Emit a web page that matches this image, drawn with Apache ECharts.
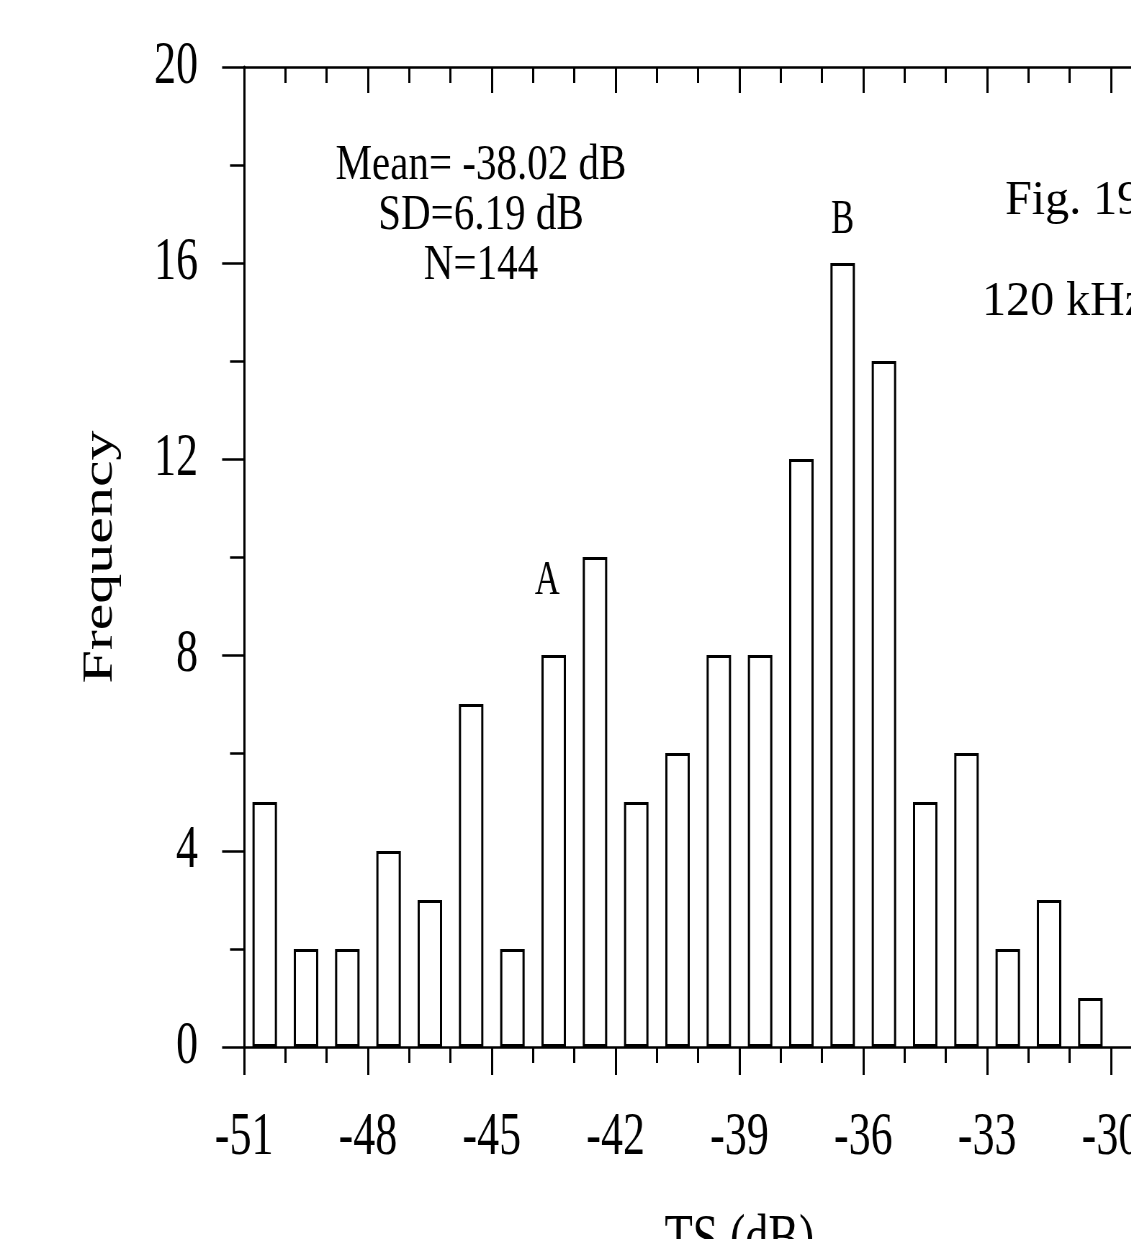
<!DOCTYPE html>
<html>
<head>
<meta charset="utf-8">
<title>TS histogram</title>
<script src="https://cdn.jsdelivr.net/npm/echarts@6/dist/echarts.min.js"></script>
<style>
  html, body { margin: 0; padding: 0; background: #fff; overflow: hidden; }
  /* the figure is drawn wide and then squeezed horizontally, giving the narrow serif look */
  #chart { width: 1571px; height: 1239px; transform: scaleX(0.72); transform-origin: 0 0; }
</style>
</head>
<body>
<div id="chart"></div>
<script>
// Histogram bins (centre of each 1 dB bin) and counts
const binCenters = [-50.5, -49.5, -48.5, -47.5, -46.5, -45.5, -44.5, -43.5, -42.5, -41.5, -40.5,
                    -39.5, -38.5, -37.5, -36.5, -35.5, -34.5, -33.5, -32.5, -31.5, -30.5];
const counts     = [5, 2, 2, 4, 3, 7, 2, 8, 10, 5, 6,
                    8, 8, 12, 16, 14, 5, 6, 2, 3, 1];

// Peak tags written above their bins
const peakTags = [
  { bin: -43.5, text: 'A', distance: 50, offset: [-9, 0] },
  { bin: -36.5, text: 'B', distance: 19, offset: [0, 0] }
];

// Axis ranges and tick steps
const xMin = -51, xMax = -27, xStep = 3;
const yMin = 0, yMax = 20, yStep = 4;

// Summary statistics block and caption lines
const statsLines = ['Mean= -38.02 dB', 'SD=6.19 dB', 'N=144'];
const captionLines = ['Fig. 19', '120 kHz'];

const SQUEEZE = 0.72;
const serif = "'Liberation Serif', 'Times New Roman', serif";

const barData = binCenters.map((x, i) => {
  const item = { value: [x, counts[i]] };
  const tag = peakTags.find(t => t.bin === x);
  if (tag) {
    item.label = {
      show: true, position: 'top', formatter: tag.text,
      distance: tag.distance, offset: tag.offset,
      fontFamily: serif, fontSize: 48, color: '#000'
    };
  }
  return item;
});

const chart = echarts.init(document.getElementById('chart'), null, { renderer: 'canvas' });

const axisLine = { show: true, lineStyle: { color: '#000', width: 2.5 } };

chart.setOption({
  backgroundColor: '#fff',
  animation: false,
  grid: { left: 339, top: 67, width: 1376, height: 980, containLabel: false, outerBoundsMode: 'none' },
  xAxis: [
    {
      type: 'value', position: 'bottom', min: xMin, max: xMax, interval: xStep,
      axisLine: axisLine,
      axisTick: { show: true, inside: false, length: 28, lineStyle: { color: '#000', width: 3 } },
      minorTick: { show: true, splitNumber: 3, length: 16, lineStyle: { color: '#000', width: 3 } },
      splitLine: { show: false },
      axisLabel: { fontFamily: serif, fontSize: 61, color: '#000', margin: 60 },
      name: 'TS (dB)', nameLocation: 'middle', nameGap: 162,
      nameTextStyle: { fontFamily: serif, fontSize: 64, color: '#000' }
    },
    {
      type: 'value', position: 'top', min: xMin, max: xMax, interval: xStep,
      axisLine: axisLine,
      axisTick: { show: true, inside: true, length: 26, lineStyle: { color: '#000', width: 3 } },
      minorTick: { show: true, splitNumber: 3, length: 16, lineStyle: { color: '#000', width: 3 } },
      splitLine: { show: false },
      axisLabel: { show: false }
    }
  ],
  yAxis: {
    type: 'value', min: yMin, max: yMax, interval: yStep,
    axisLine: { show: true, lineStyle: { color: '#000', width: 3 } },
    axisTick: { show: true, inside: false, length: 30.5, lineStyle: { color: '#000', width: 2.5 } },
    minorTick: { show: true, splitNumber: 2, length: 19.5, lineStyle: { color: '#000', width: 2.5 } },
    splitLine: { show: false },
    axisLabel: { fontFamily: serif, fontSize: 61, color: '#000', margin: 64 },
    name: 'Frequency', nameLocation: 'middle', nameGap: 170, nameRotate: 90,
    nameTextStyle: { fontFamily: serif, fontSize: 60, color: '#000' }
  },
  series: [{
    type: 'bar',
    xAxisIndex: 0,
    barWidth: 34,
    data: barData,
    itemStyle: { color: '#fff', borderColor: '#000', borderWidth: 3 },
    emphasis: { disabled: true }
  }],
  graphic: [
    {
      type: 'text', x: 668, y: 216, scaleX: 1.14, z: 10,
      style: {
        text: statsLines.join('\n'), fontFamily: serif, fontSize: 50, lineHeight: 50,
        fill: '#000', align: 'center', verticalAlign: 'middle'
      }
    },
    {
      type: 'text', x: 1396, y: 201, scaleX: 1 / SQUEEZE, z: 10,
      style: {
        text: captionLines[0], fontFamily: serif, fontSize: 48,
        fill: '#000', align: 'left', verticalAlign: 'middle'
      }
    },
    {
      type: 'text', x: 1364, y: 302, scaleX: 1 / SQUEEZE, z: 10,
      style: {
        text: captionLines[1], fontFamily: serif, fontSize: 48,
        fill: '#000', align: 'left', verticalAlign: 'middle'
      }
    }
  ]
});
</script>
</body>
</html>
